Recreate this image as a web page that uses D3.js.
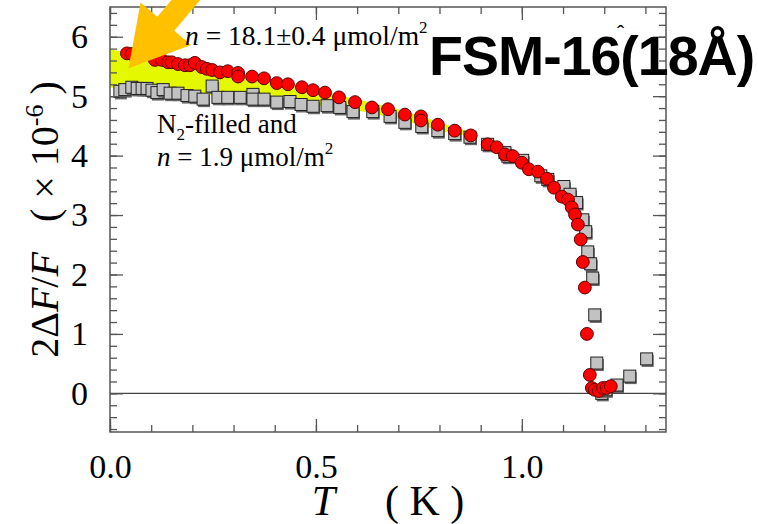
<!DOCTYPE html>
<html>
<head>
<meta charset="utf-8">
<script src="https://cdn.jsdelivr.net/npm/d3@7"></script>
<style>
  body { margin: 0; background: #fff; }
  svg { display: block; }
</style>
</head>
<body>
<div id="chart"></div>
<script>
// n = 18.1 umol/m2 (red circles)
const tempRed = [0.041, 0.053, 0.109, 0.126, 0.141, 0.150, 0.165, 0.182, 0.194, 0.206, 0.223, 0.235, 0.248, 0.267, 0.286,
    0.311, 0.311, 0.345, 0.374, 0.405, 0.432, 0.466, 0.493, 0.522, 0.556, 0.595, 0.636, 0.675, 0.716, 0.755, 0.755,
    0.796, 0.837, 0.876, 0.917, 0.939, 0.959, 0.978, 1.000, 1.017, 1.039, 1.061, 1.078, 1.097, 1.112, 1.121, 1.129,
    1.136, 1.143, 1.148, 1.153, 1.158, 1.165, 1.170, 1.177, 1.187, 1.197, 1.206, 1.216];
const sigRed = [5.72, 5.71, 5.61, 5.61, 5.57, 5.57, 5.54, 5.52, 5.52, 5.56, 5.49, 5.46, 5.44, 5.40, 5.42,
    5.39, 5.33, 5.33, 5.30, 5.22, 5.20, 5.15, 5.10, 5.06, 4.98, 4.90, 4.81, 4.78, 4.69, 4.66, 4.59,
    4.52, 4.42, 4.34, 4.19, 4.14, 4.02, 3.99, 3.88, 3.77, 3.73, 3.61, 3.46, 3.31, 3.26, 3.13, 3.01,
    2.84, 2.59, 2.21, 1.78, 1.00, 0.31, 0.09, 0.06, 0.04, 0.09, 0.09, 0.12];

// N2-filled, n = 1.9 umol/m2 (gray squares)
const tempGray = [0.024, 0.036, 0.053, 0.066, 0.078, 0.090, 0.102, 0.114, 0.129, 0.146, 0.165, 0.187, 0.206, 0.226, 0.248,
    0.262, 0.286, 0.316, 0.347, 0.347, 0.374, 0.405, 0.437, 0.464, 0.493, 0.527, 0.558, 0.590, 0.638, 0.680, 0.716,
    0.757, 0.796, 0.837, 0.874, 0.917, 0.959, 0.966, 1.002, 1.046, 1.063, 1.102, 1.117, 1.133, 1.148, 1.155, 1.160,
    1.167, 1.172, 1.177, 1.182, 1.194, 1.204, 1.231, 1.262, 1.303];
const sigGray = [5.08, 5.11, 5.15, 5.13, 5.13, 5.13, 5.10, 5.06, 5.11, 5.05, 5.05, 5.01, 5.00, 4.95, 5.17,
    4.98, 4.98, 4.98, 5.03, 4.95, 4.95, 4.90, 4.91, 4.86, 4.83, 4.84, 4.81, 4.74, 4.74, 4.66, 4.56,
    4.49, 4.42, 4.37, 4.31, 4.19, 4.05, 3.99, 3.92, 3.66, 3.60, 3.48, 3.35, 3.21, 2.92, 2.72, 2.38,
    2.18, 1.94, 1.32, 0.51, 0.00, 0.06, 0.14, 0.29, 0.58];

// yellow highlight band
const bandT  = [0, 0.1, 0.2, 0.3, 0.4, 0.5, 0.6, 0.7, 0.8, 0.89];
const bandHi = [5.79, 5.66, 5.53, 5.40, 5.25, 5.10, 4.95, 4.78, 4.56, 4.36];
const bandLo = [5.14, 5.10, 5.04, 4.98, 4.92, 4.85, 4.76, 4.62, 4.42, 4.30];

const xTicks = [0, 0.5, 1.0];
const xTickLabels = ['0.0', '0.5', '1.0'];
const yTicks = [0, 1, 2, 3, 4, 5, 6];

// where the arrow points
const arrowAt = {T: 0.045, y: 5.47};

class SignalPlot {
    constructor(_config) {
        this.config = {
            parentElement: _config.parentElement,
            containerWidth: _config.containerWidth || 758,
            containerHeight: _config.containerHeight || 524,
            margin: _config.margin || {top: 7, right: 92, bottom: 92, left: 110}
        };
        this.red = tempRed.map((t, i) => ({t: t, v: sigRed[i]}));
        this.gray = tempGray.map((t, i) => ({t: t, v: sigGray[i]}));
        this.band = bandT.map((t, i) => ({t: t, hi: bandHi[i], lo: bandLo[i]}));
        this.initVis();
    }

    initVis() {
        let vis = this;
        vis.width = vis.config.containerWidth - vis.config.margin.left - vis.config.margin.right;
        vis.height = vis.config.containerHeight - vis.config.margin.top - vis.config.margin.bottom;

        vis.svg = d3.select(vis.config.parentElement)
            .append('svg')
            .attr('width', vis.config.containerWidth)
            .attr('height', vis.config.containerHeight);
        vis.chart = vis.svg.append('g')
            .attr('transform', `translate(${vis.config.margin.left},${vis.config.margin.top})`);

        vis.xScale = d3.scaleLinear().domain([0, 1.35]).range([0, vis.width]);
        vis.yScale = d3.scaleLinear().domain([-0.65, 6.5]).range([vis.height, 0]);

        vis.renderVis();
    }

    renderVis() {
        let vis = this;
        const x = vis.xScale, y = vis.yScale;
        const serif = '"Liberation Serif", "Times New Roman", serif';

        // band
        const area = d3.area()
            .x(d => x(d.t))
            .y0(d => y(d.lo))
            .y1(d => y(d.hi));
        vis.chart.append('path')
            .datum(vis.band)
            .attr('d', area)
            .attr('fill', '#e4f800');

        // zero line
        vis.chart.append('line')
            .attr('x1', 0).attr('x2', vis.width)
            .attr('y1', y(0)).attr('y2', y(0))
            .attr('stroke', '#444').attr('stroke-width', 1.3);

        // squares
        const s = 12;
        const sq = vis.chart.selectAll('.sq')
            .data(vis.gray)
            .enter().append('g')
            .attr('class', 'sq')
            .attr('transform', d => `translate(${x(d.t)},${y(d.v)})`);
        sq.append('rect')
            .attr('x', -s / 2 + 1).attr('y', -s / 2 + 2)
            .attr('width', s).attr('height', s)
            .attr('fill', '#666');
        sq.append('rect')
            .attr('x', -s / 2).attr('y', -s / 2)
            .attr('width', s).attr('height', s)
            .attr('fill', '#c2c2c2')
            .attr('stroke', '#222').attr('stroke-width', 1);

        // circles
        vis.chart.selectAll('.dot')
            .data(vis.red)
            .enter().append('circle')
            .attr('class', 'dot')
            .attr('cx', d => x(d.t))
            .attr('cy', d => y(d.v))
            .attr('r', 6.4)
            .attr('fill', '#ff0000')
            .attr('stroke', '#5a0000').attr('stroke-width', 1);

        // frame
        vis.chart.append('rect')
            .attr('width', vis.width).attr('height', vis.height)
            .attr('fill', 'none').attr('stroke', '#555').attr('stroke-width', 1.5);

        // inward ticks on all four sides
        const minorX = d3.range(0, 1.35, 0.1), minorY = d3.range(-0.6, 6.5, 0.2);
        const tickAxes = [
            [d3.axisTop(x).tickValues(minorX).tickSize(7), `translate(0,${vis.height})`],
            [d3.axisTop(x).tickValues(xTicks).tickSize(13), `translate(0,${vis.height})`],
            [d3.axisBottom(x).tickValues(minorX).tickSize(7), null],
            [d3.axisBottom(x).tickValues(xTicks).tickSize(13), null],
            [d3.axisRight(y).tickValues(minorY).tickSize(7), null],
            [d3.axisRight(y).tickValues(yTicks).tickSize(13), null],
            [d3.axisLeft(y).tickValues(minorY).tickSize(7), `translate(${vis.width},0)`],
            [d3.axisLeft(y).tickValues(yTicks).tickSize(13), `translate(${vis.width},0)`]
        ];
        tickAxes.forEach(([ax, tr]) => {
            const g = vis.chart.append('g').call(ax.tickFormat(''));
            if (tr) g.attr('transform', tr);
            g.select('.domain').remove();
            g.selectAll('line').attr('stroke', '#555').attr('stroke-width', 1.3);
        });

        // tick labels
        const xLab = vis.chart.append('g')
            .attr('transform', `translate(0,${vis.height})`)
            .call(d3.axisBottom(x).tickValues(xTicks).tickSize(0).tickPadding(22)
                .tickFormat((d, i) => xTickLabels[i]));
        const yLab = vis.chart.append('g')
            .call(d3.axisLeft(y).tickValues(yTicks).tickSize(0).tickPadding(22).tickFormat(d3.format('d')));
        [xLab, yLab].forEach(g => {
            g.select('.domain').remove();
            g.selectAll('text').attr('font-family', serif).attr('font-size', 34).attr('fill', '#000');
        });

        // axis titles
        const xt = vis.svg.append('text')
            .attr('x', vis.config.margin.left + vis.width / 2)
            .attr('y', 515)
            .attr('text-anchor', 'middle')
            .attr('font-family', serif).attr('font-size', 42);
        xt.append('tspan').attr('font-style', 'italic').text('T');
        xt.append('tspan').attr('dx', 50).text('( K )');

        const yt = vis.svg.append('text')
            .attr('transform', `translate(58,${vis.config.margin.top + vis.height / 2}) rotate(-90)`)
            .attr('text-anchor', 'middle')
            .attr('font-family', serif).attr('font-size', 40);
        yt.append('tspan').text('2Δ');
        yt.append('tspan').attr('font-style', 'italic').text('F');
        yt.append('tspan').text('/');
        yt.append('tspan').attr('font-style', 'italic').text('F');
        yt.append('tspan').attr('dx', 30).text('( × 10');
        yt.append('tspan').attr('font-size', 26).attr('dy', -15).text('-6');
        yt.append('tspan').attr('dy', 15).text(' )');

        // arrow
        const ax = vis.config.margin.left + x(arrowAt.T), ay = vis.config.margin.top + y(arrowAt.y);
        vis.svg.append('path')
            .attr('d', 'M0,0 L58,-33 L58,-11 L180,-11 L180,11 L58,11 L58,33 Z')
            .attr('transform', `translate(${ax},${ay}) rotate(-50)`)
            .attr('fill', '#ffc000');

        // annotations
        const a1 = vis.svg.append('text')
            .attr('x', 185).attr('y', 45)
            .attr('font-family', serif).attr('font-size', 27.5);
        a1.append('tspan').attr('font-style', 'italic').text('n');
        a1.append('tspan').text(' = 18.1±0.4 μmol/m');
        a1.append('tspan').attr('font-size', 17).attr('dy', -12).text('2');

        const a2 = vis.svg.append('text')
            .attr('x', 157).attr('y', 133)
            .attr('font-family', serif).attr('font-size', 27);
        a2.append('tspan').text('N');
        a2.append('tspan').attr('font-size', 17).attr('dy', 7).text('2');
        a2.append('tspan').attr('dy', -7).text('-filled and');

        const a3 = vis.svg.append('text')
            .attr('x', 157).attr('y', 166)
            .attr('font-family', serif).attr('font-size', 27);
        a3.append('tspan').attr('font-style', 'italic').text('n');
        a3.append('tspan').text(' = 1.9 μmol/m');
        a3.append('tspan').attr('font-size', 17).attr('dy', -12).text('2');

        vis.svg.append('text')
            .attr('x', 429).attr('y', 75)
            .attr('font-family', '"Liberation Sans", Arial, sans-serif')
            .attr('font-weight', 'bold').attr('font-size', 55.5)
            .attr('letter-spacing', -1)
            .text('FSM-16(18Å)');
        vis.svg.append('text')
            .attr('x', 617).attr('y', 41)
            .attr('font-family', '"Liberation Sans", Arial, sans-serif')
            .attr('font-size', 22)
            .text('ˆ');
    }
}

new SignalPlot({parentElement: '#chart'});
</script>
</body>
</html>
